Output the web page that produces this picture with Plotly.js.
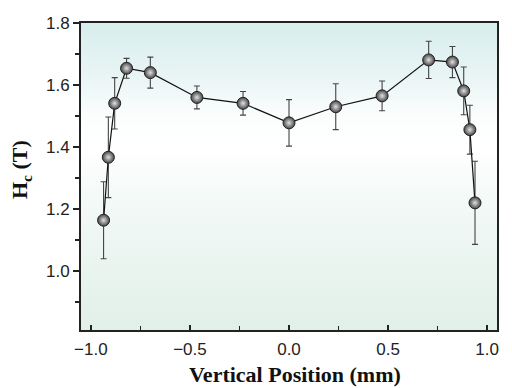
<!DOCTYPE html>
<html>
<head>
<meta charset="utf-8">
<script src="https://cdn.plot.ly/plotly-3.0.1.min.js"></script>
<style>
html,body{margin:0;padding:0;background:#fff;}
#wrap{position:relative;width:512px;height:388px;}
#bg{position:absolute;left:81px;top:23px;width:416px;height:307px;
background:linear-gradient(to bottom,#d8eded 0%,#eaf5f5 18%,#fbfdfd 30%,#ffffff 40%,#f1f8f5 62%,#e1f0e9 100%);}
#chart{position:absolute;left:0;top:0;width:512px;height:388px;}
</style>
</head>
<body>
<div id="wrap"><div id="bg"></div><div id="chart"></div></div>
<script>
var position = [-0.936, -0.912, -0.880, -0.820, -0.700, -0.465, -0.232, 0.000, 0.236, 0.470, 0.705, 0.825, 0.882, 0.913, 0.939];
var hc = [1.164, 1.367, 1.541, 1.654, 1.640, 1.560, 1.541, 1.478, 1.530, 1.565, 1.681, 1.674, 1.581, 1.456, 1.220];
var hcErr = [0.124, 0.130, 0.083, 0.032, 0.050, 0.037, 0.038, 0.075, 0.074, 0.048, 0.060, 0.050, 0.077, 0.079, 0.134];
var xTicks = [-1.0, -0.5, 0.0, 0.5, 1.0];
var xTickText = ['\u22121.0', '\u22120.5', '0.0', '0.5', '1.0'];
var yTicks = [1.0, 1.2, 1.4, 1.6, 1.8];
var yTickText = ['1.0', '1.2', '1.4', '1.6', '1.8'];
var xTitle = 'Vertical Position (mm)';
var yTitle = 'H<sub>c</sub> (T)';

var trace = {
  x: position, y: hc, type: 'scatter', mode: 'lines+markers',
  line: {color: '#111', width: 1.2},
  marker: {size: 12, color: '#454545', gradient: {type: 'radial', color: '#e2e2e2'}, line: {color: '#222', width: 1}},
  error_y: {type: 'data', array: hcErr, visible: true, color: '#444', thickness: 1.1, width: 3},
  hoverinfo: 'none'
};
var serif = 'Liberation Serif, Times New Roman, serif';
var layout = {
  width: 512, height: 388,
  margin: {l: 81, r: 15, t: 23, b: 58},
  paper_bgcolor: 'rgba(0,0,0,0)', plot_bgcolor: 'rgba(0,0,0,0)',
  showlegend: false,
  font: {family: 'Liberation Sans, Arial, sans-serif', size: 17, color: '#222'},
  xaxis: {
    range: [-1.05, 1.05], tickvals: xTicks, ticktext: xTickText,
    ticks: 'inside', ticklen: 5, tickwidth: 1.5, tickcolor: '#222',
    ticklabelstandoff: 3,
    minor: {dtick: 0.25, ticks: 'inside', ticklen: 4, tickwidth: 1.2, tickcolor: '#222'},
    showline: true, linecolor: '#222', linewidth: 2, mirror: true,
    showgrid: false, zeroline: false
  },
  yaxis: {
    range: [0.81, 1.8], tickvals: yTicks, ticktext: yTickText,
    ticks: 'outside', ticklen: 6, tickwidth: 1.5, tickcolor: '#222',
    minor: {dtick: 0.1, ticks: 'outside', ticklen: 4, tickwidth: 1.2, tickcolor: '#222'},
    showline: true, linecolor: '#222', linewidth: 2, mirror: true,
    showgrid: false, zeroline: false
  },
  annotations: [
    {text: '<b>' + xTitle + '</b>', xref: 'paper', yref: 'paper', x: 0.514, y: 0,
     xanchor: 'center', yanchor: 'middle', yshift: -44, showarrow: false,
     font: {family: serif, size: 22, color: '#111'}},
    {text: '<b>' + yTitle + '</b>', xref: 'paper', yref: 'paper', x: 0, y: 0.521,
     xanchor: 'center', yanchor: 'middle', xshift: -60, textangle: -90, showarrow: false,
     font: {family: serif, size: 22, color: '#111'}}
  ]
};
Plotly.newPlot('chart', [trace], layout, {displayModeBar: false, staticPlot: true});
</script>
</body>
</html>
